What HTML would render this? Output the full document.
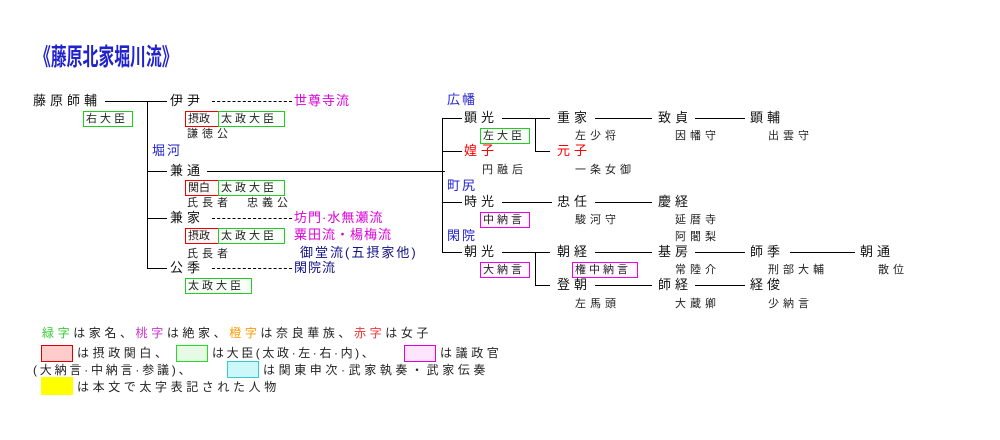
<!DOCTYPE html>
<html><head><meta charset="utf-8">
<style>
body{margin:0;background:#fff;}
#c{position:relative;width:1000px;height:440px;overflow:hidden;background:#fff;font-family:"Liberation Sans","Noto Sans CJK JP",sans-serif;}
.t{position:absolute;font-size:13px;line-height:16px;letter-spacing:4px;white-space:nowrap;color:#111;}
.s{position:absolute;font-size:11px;line-height:14px;letter-spacing:4px;white-space:nowrap;color:#222;}
.h{position:absolute;height:1px;background:#000;}
.v{position:absolute;width:1px;background:#000;}
.d{position:absolute;height:0;border-top:1px dashed #000;}
.b{position:absolute;box-sizing:border-box;font-size:11px;line-height:14px;letter-spacing:3px;padding-left:2px;white-space:nowrap;color:#222;}
.r{border:1px solid #e00;background:#fff8f8;}
.g{border:1px solid #2c2;background:#f8fff8;}
.m{border:1px solid #e0e;background:#fff8ff;}
.bl{color:#22c;}
.nv{color:#118;}
.mg{color:#d0d;}
.rd{color:#f00;}
.l{position:absolute;font-size:12px;line-height:15px;letter-spacing:3.6px;white-space:nowrap;color:#222;}
</style></head><body><div id="c">
<div style="position:absolute;left:35px;top:44px;font-size:24px;line-height:28px;font-weight:bold;color:#22c;transform:scaleX(0.66);transform-origin:0 0;white-space:nowrap;">《藤原北家堀川流》</div>

<div class="t" style="left:33px;top:93px">藤原師輔</div>
<div class="h" style="left:105px;top:101px;width:42px"></div>
<div class="b g" style="left:83px;top:111px;width:50px;height:16px">右大臣</div>
<div class="v" style="left:147px;top:101px;height:168px"></div>
<div class="h" style="left:147px;top:101px;width:20px"></div>
<div class="h" style="left:147px;top:171px;width:20px"></div>
<div class="h" style="left:147px;top:218px;width:20px"></div>
<div class="h" style="left:147px;top:268px;width:20px"></div>

<div class="t" style="left:170px;top:93px">伊尹</div>
<div class="d" style="left:212px;top:101px;width:80px"></div>
<div class="t mg" style="left:294px;top:93px;letter-spacing:1px">世尊寺流</div>
<div class="b r" style="left:185px;top:111px;width:34px;height:16px;letter-spacing:0">摂政</div>
<div class="b g" style="left:218px;top:111px;width:67px;height:16px">太政大臣</div>
<div class="s" style="left:187px;top:127px">謙徳公</div>
<div class="t bl" style="left:152px;top:143px;letter-spacing:2px">堀河</div>

<div class="t" style="left:170px;top:163px">兼通</div>
<div class="h" style="left:207px;top:171px;width:238px"></div>
<div class="b r" style="left:185px;top:180px;width:34px;height:16px;letter-spacing:0">関白</div>
<div class="b g" style="left:218px;top:180px;width:67px;height:16px">太政大臣</div>
<div class="s" style="left:187px;top:196px">氏長者　忠義公</div>

<div class="t" style="left:170px;top:210px">兼家</div>
<div class="d" style="left:212px;top:218px;width:80px"></div>
<div class="t mg" style="left:294px;top:210px;letter-spacing:1px">坊門·水無瀬流</div>
<div class="b r" style="left:185px;top:228px;width:34px;height:16px;letter-spacing:0">摂政</div>
<div class="b g" style="left:218px;top:228px;width:67px;height:16px">太政大臣</div>
<div class="t mg" style="left:294px;top:227px;letter-spacing:1px">粟田流・楊梅流</div>
<div class="s" style="left:187px;top:247px">氏長者</div>
<div class="t nv" style="left:300px;top:245px;letter-spacing:2px">御堂流(五摂家他)</div>

<div class="t" style="left:170px;top:260px">公季</div>
<div class="d" style="left:212px;top:268px;width:80px"></div>
<div class="t nv" style="left:294px;top:260px;letter-spacing:1px">閑院流</div>
<div class="b g" style="left:185px;top:278px;width:67px;height:16px">太政大臣</div>

<!-- right -->
<div class="v" style="left:442px;top:118px;height:135px"></div>
<div class="h" style="left:442px;top:118px;width:20px"></div>
<div class="h" style="left:442px;top:151px;width:20px"></div>
<div class="h" style="left:442px;top:202px;width:20px"></div>
<div class="h" style="left:442px;top:252px;width:20px"></div>

<div class="t bl" style="left:447px;top:92px;letter-spacing:2px">広幡</div>
<div class="t" style="left:464px;top:110px">顕光</div>
<div class="h" style="left:502px;top:118px;width:48px"></div>
<div class="v" style="left:535px;top:118px;height:34px"></div>
<div class="h" style="left:535px;top:151px;width:15px"></div>
<div class="t" style="left:557px;top:110px">重家</div>
<div class="h" style="left:595px;top:118px;width:57px"></div>
<div class="t" style="left:658px;top:110px">致貞</div>
<div class="h" style="left:695px;top:118px;width:50px"></div>
<div class="t" style="left:750px;top:110px">顕輔</div>
<div class="b g" style="left:480px;top:128px;width:50px;height:16px">左大臣</div>
<div class="s" style="left:575px;top:129px">左少将</div>
<div class="s" style="left:675px;top:129px">因幡守</div>
<div class="s" style="left:768px;top:129px">出雲守</div>

<div class="t rd" style="left:464px;top:143px">媓子</div>
<div class="t rd" style="left:557px;top:143px">元子</div>
<div class="s" style="left:482px;top:163px">円融后</div>
<div class="s" style="left:575px;top:163px">一条女御</div>

<div class="t bl" style="left:447px;top:178px;letter-spacing:2px">町尻</div>
<div class="t" style="left:464px;top:194px">時光</div>
<div class="h" style="left:502px;top:202px;width:50px"></div>
<div class="t" style="left:557px;top:194px">忠任</div>
<div class="h" style="left:595px;top:202px;width:57px"></div>
<div class="t" style="left:658px;top:194px">慶経</div>
<div class="b m" style="left:480px;top:212px;width:50px;height:16px">中納言</div>
<div class="s" style="left:575px;top:213px">駿河守</div>
<div class="s" style="left:675px;top:213px">延暦寺</div>
<div class="s" style="left:675px;top:230px">阿闍梨</div>

<div class="t bl" style="left:447px;top:228px;letter-spacing:2px">閑院</div>
<div class="t" style="left:464px;top:244px">朝光</div>
<div class="h" style="left:502px;top:252px;width:48px"></div>
<div class="v" style="left:535px;top:252px;height:34px"></div>
<div class="h" style="left:535px;top:285px;width:15px"></div>
<div class="t" style="left:557px;top:244px">朝経</div>
<div class="h" style="left:595px;top:252px;width:57px"></div>
<div class="t" style="left:658px;top:244px">基房</div>
<div class="h" style="left:695px;top:252px;width:50px"></div>
<div class="t" style="left:750px;top:244px">師季</div>
<div class="h" style="left:790px;top:252px;width:65px"></div>
<div class="t" style="left:860px;top:244px">朝通</div>
<div class="b m" style="left:480px;top:262px;width:50px;height:16px">大納言</div>
<div class="b m" style="left:572px;top:262px;width:66px;height:16px">権中納言</div>
<div class="s" style="left:675px;top:263px">常陸介</div>
<div class="s" style="left:768px;top:263px">刑部大輔</div>
<div class="s" style="left:878px;top:263px">散位</div>

<div class="t" style="left:557px;top:277px">登朝</div>
<div class="h" style="left:595px;top:285px;width:57px"></div>
<div class="t" style="left:658px;top:277px">師経</div>
<div class="h" style="left:695px;top:285px;width:50px"></div>
<div class="t" style="left:750px;top:277px">経俊</div>
<div class="s" style="left:575px;top:297px">左馬頭</div>
<div class="s" style="left:675px;top:297px">大蔵卿</div>
<div class="s" style="left:768px;top:297px">少納言</div>

<!-- legend -->
<div class="l" style="left:42px;top:326px"><span style="color:#3c3">緑字</span>は家名、<span style="color:#c3c">桃字</span>は絶家、<span style="color:#f90">橙字</span>は奈良華族、<span style="color:#e33">赤字</span>は女子</div>
<div style="position:absolute;left:41px;top:345px;width:32px;height:17px;box-sizing:border-box;border:1px solid #d00;background:#fcc"></div>
<div class="l" style="left:77px;top:346px">は摂政関白、</div>
<div style="position:absolute;left:176px;top:345px;width:32px;height:17px;box-sizing:border-box;border:1px solid #2d2;background:#e6fae6"></div>
<div class="l" style="left:212px;top:346px;letter-spacing:2.6px">は大臣(太政·左·右·内)、</div>
<div style="position:absolute;left:404px;top:345px;width:32px;height:17px;box-sizing:border-box;border:1px solid #d0d;background:#fde6fd"></div>
<div class="l" style="left:440px;top:346px">は議政官</div>
<div class="l" style="left:33px;top:363px;letter-spacing:2.8px">(大納言·中納言·参議)、</div>
<div style="position:absolute;left:227px;top:361px;width:32px;height:17px;box-sizing:border-box;border:1px solid #3cc;background:#ccf8fa"></div>
<div class="l" style="left:263px;top:363px">は関東申次·武家執奏・武家伝奏</div>
<div style="position:absolute;left:41px;top:377px;width:32px;height:18px;background:#ff0"></div>
<div class="l" style="left:77px;top:380px">は本文で太字表記された人物</div>
</div></body></html>
